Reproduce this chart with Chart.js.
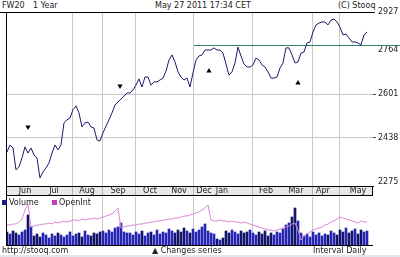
<!DOCTYPE html>
<html>
<head>
<meta charset="utf-8">
<script src="https://cdn.jsdelivr.net/npm/chart.js@4.4.1/dist/chart.umd.min.js"></script>
<style>
body { margin: 0; background: #fff; }
#wrap { position: relative; width: 400px; height: 257px; overflow: hidden; font-family: "DejaVu Sans", sans-serif; }
.t { position: absolute; font-size: 8px; line-height: 9px; color: #222; white-space: nowrap; }
.sq { display: inline-block; width: 5px; height: 5px; margin-right: 2px; vertical-align: 0; }
canvas { position: absolute; left: 0; }
</style>
</head>
<body>
<div id="wrap">
    <div class="t" style="left:2px;top:1px">FW20</div>
    <div class="t" style="left:33px;top:1px">1 Year</div>
    <div class="t" style="left:155px;top:1px">May 27 2011 17:34 CET</div>
    <div class="t" style="left:338px;top:1px">(C) Stooq</div>
    <canvas id="chart" width="400" height="196" style="top:0"></canvas>
    <canvas id="chart-volume" width="400" height="50" style="top:196px"></canvas>
    <div class="t" style="left:2px;top:198px"><span class="sq" style="background:#1c1c8c"></span>Volume</div>
    <div class="t" style="left:52px;top:198px"><span class="sq" style="background:#c03cc0"></span>OpenInt</div>
    <div class="t" style="left:2px;top:246px">http://stooq.com</div>
    <div class="t" style="left:152px;top:246px">&#9650; Changes series</div>
    <div class="t" style="left:313px;top:246px">Interval Daily</div>
    <div style="position:absolute;left:0;top:255px;width:400px;height:2px;background:#dfe6f0"></div>
</div>

<script>
// FW20 daily close, one sample every ~2 sessions (Jun 2010 - May 2011)
let price = [
    2386, 2412, 2401, 2320, 2331, 2364, 2405, 2382, 2401, 2375,
    2364, 2290, 2312, 2327, 2345, 2382, 2412, 2394, 2412, 2494,
    2505, 2512, 2543, 2557, 2531, 2479, 2494, 2497, 2479, 2475,
    2431, 2427, 2457, 2482, 2505, 2531, 2560, 2571, 2582, 2593,
    2605, 2605, 2616, 2634, 2657, 2627, 2664, 2664, 2634, 2646,
    2646, 2653, 2660, 2686, 2727, 2746, 2720, 2683, 2664, 2653,
    2660, 2627, 2679, 2727, 2742, 2746, 2764, 2764, 2764, 2772,
    2764, 2764, 2753, 2712, 2671, 2683, 2716, 2775, 2742, 2712,
    2701, 2701, 2709, 2734, 2727, 2709, 2701, 2683, 2660, 2660,
    2664, 2697, 2716, 2772, 2772, 2746, 2716, 2720, 2753, 2757,
    2790, 2794, 2831, 2857, 2864, 2868, 2868, 2857, 2875, 2879,
    2868, 2849, 2820, 2823, 2809, 2794, 2794, 2790, 2783, 2820,
    2831
];
let volume = [
    13000, 11000, 14000, 12000, 10000, 13000, 15000, 30000, 18000,
    9000, 11000, 8000, 12000, 10000, 7000, 11000, 9000, 12000, 10000, 8000,
    10000, 13000, 9000, 11000, 12000, 8000, 14000, 10000, 9000, 12000, 11000, 13000,
    14000, 12000, 15000, 13000, 17000, 18000, 22000, 13000, 12000,
    12000, 10000, 13000, 11000, 14000, 9000, 12000, 13000, 10000, 15000, 11000,
    13000, 12000, 16000, 14000, 12000, 15000, 13000, 17000, 14000, 12000, 16000, 13000, 15000,
    18000, 21000, 14000, 12000, 11000, 6000, 5000, 7000,
    14000, 12000, 15000, 13000, 11000, 14000, 12000, 13000, 15000,
    12000, 10000, 13000, 11000, 14000, 9000, 12000, 10000, 13000, 12000,
    16000, 20000, 22000, 28000, 37000, 24000,
    12000, 9000, 11000, 8000, 13000, 10000, 12000, 9000, 11000, 10000, 14000, 12000, 10000,
    15000, 13000, 17000, 12000, 14000, 16000, 11000, 15000, 13000, 14000
];
let openInt = [
    80000, 80000, 81000, 81000, 83000, 86000, 95000, 101000,
    78000, 79000, 80000, 80000, 81000, 81000, 82000, 81000, 83000, 82000, 83000,
    84000, 83000, 84000, 85000, 85000, 84000, 86000, 85000, 86000, 86000, 87000, 86000, 87000,
    88000, 89000, 90000, 91000, 94000, 97000, 77000,
    78000, 79000, 79000, 80000, 80000, 81000, 81000, 82000, 82000, 83000, 83000, 84000,
    84000, 85000, 85000, 86000, 86000, 87000, 87000, 88000, 89000, 89000, 90000, 91000, 92000, 93000, 95000, 97000, 100000,
    85000, 84000, 84000, 85000, 84000, 84000, 83000, 84000, 83000, 83000, 82000, 83000, 82000,
    81000, 80000, 79000, 78000, 77000, 76000, 75000, 75000, 74000, 75000, 76000, 77000, 78000, 79000, 81000, 82000,
    75000, 65000, 69000, 71000, 73000, 75000, 76000, 77000, 78000, 80000, 81000, 83000, 84000, 86000,
    88000, 87000, 86000, 85000, 84000, 83000, 82000, 84000, 83000, 83000
];

// changes series markers (sample index, price)
let sellIdx = [7, 37.67];
let sellVal = [2479, 2631];
let buyIdx = [67.33, 97];
let buyVal = [2686, 2642];
let refLevel = 2783;
let refStartIdx = 62.33;

let monthLabels = ["Jun", "Jul", "Aug", "Sep", "Oct", "Nov", "Dec", "Jan", "Feb", "Mar", "Apr", "May"];
let monthTickIdx = [6, 15.67, 26.67, 37, 47.67, 57.33, 65.67, 71.67, 86.33, 96.33, 105.33, 117];
let gridIdx = [22, 32, 42.67, 62.33, 81.67, 102, 111];
let yTickValues = [2275, 2438, 2601, 2764, 2927];
let yTickLabels = ["2275", "2438", "2601", "2764", "2927"];
let yGridValues = [2438, 2601];

const FONT = { family: "DejaVu Sans", size: 8 };
const X_MIN = -0.333, X_MAX = 122;
Chart.defaults.font.family = "DejaVu Sans";

let canvas = document.getElementById("chart");
let context = canvas.getContext("2d");
let canvasVolume = document.getElementById("chart-volume");
let contextVolume = canvasVolume.getContext("2d");

const framePlugin = {
    id: "frame",
    beforeDraw(chart) {
        const c = chart.ctx, a = chart.chartArea;
        c.save();
        c.fillStyle = "#e8e8e8";
        c.fillRect(a.left, a.bottom, a.right - a.left, 10);
        c.restore();
    },
    beforeDatasetsDraw(chart) {
        const c = chart.ctx;
        const y = Math.round(chart.scales.y.getPixelForValue(refLevel)) + 0.5;
        const x0 = chart.scales.x.getPixelForValue(refStartIdx);
        c.save();
        c.strokeStyle = "#3b7d6c";
        c.lineWidth = 1;
        c.beginPath();
        c.moveTo(x0, y);
        c.lineTo(400, y);
        c.stroke();
        c.restore();
    },
    afterDraw(chart) {
        const c = chart.ctx, a = chart.chartArea;
        c.save();
        c.strokeStyle = "#000";
        c.lineWidth = 1;
        c.beginPath();
        c.moveTo(0, a.top + 0.5);
        c.lineTo(a.right + 2, a.top + 0.5);
        c.moveTo(a.left + 0.5, a.top);
        c.lineTo(a.left + 0.5, 196);
        c.moveTo(a.left, a.bottom + 9.5);
        c.lineTo(a.right, a.bottom + 9.5);
        c.moveTo(a.right - 0.5, a.bottom);
        c.lineTo(a.right - 0.5, a.bottom + 10);
        c.stroke();
        c.restore();
    }
};

let chart = new Chart(context, {
    type: "line",
    data: {
        datasets: [
            {
                data: price.map((v, i) => ({ x: i, y: v })),
                borderColor: "#1a1a70",
                borderWidth: 1,
                pointRadius: 0,
                tension: 0,
                order: 1
            },
            {
                data: sellIdx.map((v, i) => ({ x: v, y: sellVal[i] })),
                showLine: false,
                pointStyle: "triangle",
                rotation: 180,
                pointRadius: 3,
                backgroundColor: "#000",
                borderColor: "#000",
                borderWidth: 0,
                order: 0
            },
            {
                data: buyIdx.map((v, i) => ({ x: v, y: buyVal[i] })),
                showLine: false,
                pointStyle: "triangle",
                pointRadius: 3,
                backgroundColor: "#000",
                borderColor: "#000",
                borderWidth: 0,
                order: 0
            }
        ]
    },
    options: {
        responsive: false,
        animation: false,
        devicePixelRatio: 1,
        layout: { padding: { left: 6, top: 12, right: 0, bottom: 0 } },
        plugins: { legend: { display: false }, tooltip: { enabled: false } },
        scales: {
            x: {
                type: "linear", min: X_MIN, max: X_MAX, weight: 0,
                afterBuildTicks: s => { s.ticks = gridIdx.map(v => ({ value: v })); },
                afterFit: s => { s.height = 0; },
                ticks: { display: false },
                grid: { color: "#c8c8c8", drawTicks: true, tickLength: 10, tickColor: "#b4b4b4" },
                border: { display: true, color: "#000", width: 1 }
            },
            x2: {
                type: "linear", position: "bottom", min: X_MIN, max: X_MAX, weight: 1,
                afterBuildTicks: s => { s.ticks = monthTickIdx.map(v => ({ value: v })); },
                afterFit: s => { s.height = 10; },
                ticks: {
                    callback: (v, i) => monthLabels[i],
                    autoSkip: false, maxRotation: 0, padding: 0,
                    font: FONT, color: "#222"
                },
                grid: { display: false, drawTicks: false },
                border: { display: false }
            },
            y: {
                position: "right", min: 2260, max: 2905,
                afterBuildTicks: s => { s.ticks = yTickValues.map(v => ({ value: Math.min(v, s.max) })); },
                afterFit: s => { s.width = 27; },
                ticks: {
                    callback: (v, i) => yTickLabels[i],
                    autoSkip: false, padding: 2, font: FONT, color: "#222"
                },
                grid: {
                    color: c => (c.tick && yGridValues.includes(c.tick.value)) ? "#c8c8c8" : "rgba(0,0,0,0)",
                    tickColor: c => (c.tick && yGridValues.includes(c.tick.value)) ? "#444" : "rgba(0,0,0,0)",
                    tickLength: 3
                },
                border: { display: false }
            }
        }
    },
    plugins: [framePlugin]
});

const volumeFrame = {
    id: "volumeFrame",
    afterDraw(chart) {
        const c = chart.ctx, a = chart.chartArea;
        c.save();
        c.strokeStyle = "#000";
        c.lineWidth = 1;
        c.beginPath();
        c.moveTo(a.left + 0.5, 0);
        c.lineTo(a.left + 0.5, a.bottom + 1);
        c.moveTo(a.left, a.bottom + 0.5);
        c.lineTo(a.right, a.bottom + 0.5);
        c.stroke();
        c.restore();
    }
};

let colors = volume.map((v, i) => (i > 0 && price[i] >= price[i - 1]) ? "#2626b4" : "#14146a");

let chartVolume = new Chart(contextVolume, {
    type: "bar",
    data: {
        datasets: [
            {
                type: "line",
                data: openInt.map((v, i) => ({ x: i, y: v })),
                yAxisID: "yo",
                borderColor: "#d888d8",
                borderWidth: 1,
                pointRadius: 0,
                tension: 0,
                order: 0
            },
            {
                type: "bar",
                data: volume.map((v, i) => ({ x: i, y: v })),
                yAxisID: "yv",
                backgroundColor: colors,
                barThickness: 2,
                order: 1
            }
        ]
    },
    options: {
        responsive: false,
        animation: false,
        devicePixelRatio: 1,
        layout: { padding: { left: 6, top: 1, right: 27, bottom: 1 } },
        plugins: { legend: { display: false }, tooltip: { enabled: false } },
        scales: {
            x: {
                type: "linear", min: X_MIN, max: X_MAX, offset: false,
                afterBuildTicks: s => { s.ticks = gridIdx.map(v => ({ value: v })); },
                afterFit: s => { s.height = 0; },
                ticks: { display: false },
                grid: { color: "#c8c8c8", drawTicks: false, offset: false },
                border: { display: false }
            },
            yv: { display: false, min: 0, max: 48000 },
            yo: { display: false, min: 60000, max: 108000 }
        }
    },
    plugins: [volumeFrame]
});
</script>
</body>
</html>
